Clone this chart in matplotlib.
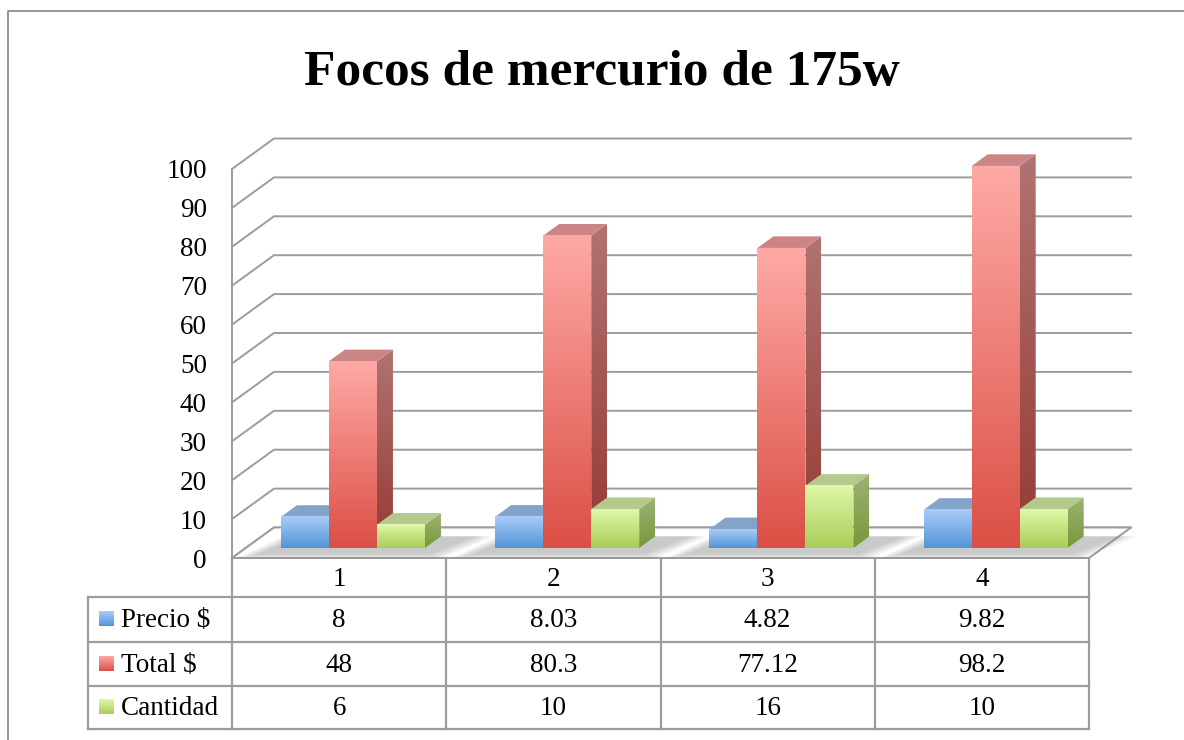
import numpy as np
import matplotlib
matplotlib.use("Agg")
import matplotlib.pyplot as plt
from matplotlib.patches import Polygon
from matplotlib.colors import to_rgb

# datos de la tabla
categorias = ["1", "2", "3", "4"]
series = ["Precio $", "Total $", "Cantidad"]
precio = [8, 8.03, 4.82, 9.82]
total = [48, 80.3, 77.12, 98.2]
cantidad = [6, 10, 16, 10]
valores = [precio, total, cantidad]
ticks = list(range(0, 101, 10))

# colores: frente (arriba, abajo), tapa, lado (arriba, abajo)
colores = [
    dict(front=("#a8cdf8", "#5394d6"), top="#84a3c9", side=("#7596c2", "#3f6ea8")),
    dict(front=("#fea9a5", "#db5045"), top="#cc8585", side=("#b07371", "#953a34")),
    dict(front=("#e0f8a8", "#a9cd58"), top="#b4c98c", side=("#9db276", "#76993a")),
]

plt.rcParams['font.family'] = ['Liberation Serif', 'DejaVu Serif']
FS = 19.5

W, H = 1184, 740
fig = plt.figure(figsize=(W / 100, H / 100), dpi=100)
ax = fig.add_axes([0, 0, 1, 1])
ax.axis('off')

# proyeccion falsa 3D en pixeles
X0, Y0 = 232, 558
CAT_W = 214.25
S = 3.89
DX, DY = 42, 30.5
GRID = "#9c9c9c"


def proj(xc, v, d):
    return X0 + xc * CAT_W + d * DX, Y0 - v * S - d * DY


def gradiente(x0, x1, ytop, ybot, c_top, c_bot, clip=None, z=3):
    a, b = np.array(to_rgb(c_top)), np.array(to_rgb(c_bot))
    t = np.linspace(0, 1, 64)[:, None]
    img = (a * (1 - t) + b * t)[:, None, :]
    im = ax.imshow(img, extent=(x0, x1, ybot, ytop), origin='upper',
                   aspect='auto', interpolation='bilinear', zorder=z)
    if clip is not None:
        im.set_clip_path(clip)
    return im


# marco exterior
ax.plot([8, 8, W], [H, 11, 11], color="#8c8c8c", lw=1.3, zorder=1)

# titulo
ax.text(602, 85, "Focos de mercurio de 175w", ha='center', va='baseline',
        fontsize=37, fontweight='bold', zorder=5)

# pared del fondo y pared izquierda
n = len(categorias)
for v in ticks:
    p0 = proj(0, v, 0)
    p1 = proj(0, v, 1)
    p2 = proj(n, v, 1)
    ax.plot([p0[0], p1[0], p2[0]], [p0[1], p1[1], p2[1]],
            color=GRID, lw=1.4, zorder=2, solid_joinstyle='miter')
    ax.text(207, p0[1] + 3, str(v), ha='right', va='center', fontsize=FS)
a, b = proj(0, 0, 0), proj(0, 100, 0)
ax.plot([a[0], b[0]], [a[1], b[1]], color=GRID, lw=1.4, zorder=2)

# piso
f = [proj(0, 0, 0), proj(n, 0, 0), proj(n, 0, 1), proj(0, 0, 1)]
ax.add_patch(Polygon(f, closed=True, facecolor="white", edgecolor=GRID,
                     lw=1.4, zorder=2))

BW = 0.224
G0 = 0.5 - 1.5 * BW
D0, D1 = 0.33, 0.71

# sombras suaves bajo cada grupo
for i in range(n):
    xl = i + G0
    xr = i + G0 + 3 * BW
    for k in range(8):
        e = 0.012 * k
        poly = [proj(xl - 0.06 - e, 0, D0 - 0.2 - e * 2),
                proj(xr + 0.06 + e, 0, D0 - 0.2 - e * 2),
                proj(xr + 0.16 + e, 0, D1),
                proj(xl + 0.02 - e, 0, D1)]
        ax.add_patch(Polygon(poly, closed=True, facecolor="#7a7a7a",
                             edgecolor='none', alpha=0.06, zorder=2.5))

# barras
for i in range(n):
    for j, serie in enumerate(valores):
        v = serie[i]
        c = colores[j]
        xl = i + G0 + j * BW
        xr = xl + BW
        z = 3 + i * 0.1 + j * 0.01
        # lado derecho
        side = [proj(xr, 0, D0), proj(xr, v, D0), proj(xr, v, D1), proj(xr, 0, D1)]
        sp = Polygon(side, closed=True, facecolor='none', edgecolor='none', zorder=z)
        ax.add_patch(sp)
        ys = [p[1] for p in side]
        xs = [p[0] for p in side]
        gradiente(min(xs), max(xs), min(ys), max(ys), c["side"][0], c["side"][1],
                  clip=sp, z=z)
        # tapa
        top = [proj(xl, v, D0), proj(xr, v, D0), proj(xr, v, D1), proj(xl, v, D1)]
        ax.add_patch(Polygon(top, closed=True, facecolor=c["top"],
                             edgecolor='none', zorder=z))
        # frente
        fl, fb = proj(xl, 0, D0)
        fr, ft = proj(xr, v, D0)
        gradiente(fl, fr, ft, fb, c["front"][0], c["front"][1], z=z + 0.001)

# tabla de datos
xs_tab = [proj(k, 0, 0)[0] for k in range(n + 1)]
y_rows = [558, 597, 642, 686, 729]
x_left = 88
for yy in y_rows[1:]:
    ax.plot([x_left, xs_tab[-1]], [yy, yy], color=GRID, lw=1.6, zorder=2)
ax.plot([x_left, x_left], [y_rows[1], y_rows[-1]], color=GRID, lw=1.6, zorder=2)
for xx in xs_tab:
    ax.plot([xx, xx], [y_rows[0], y_rows[-1]], color=GRID, lw=1.6, zorder=2)

for k, cat in enumerate(categorias):
    cx = (xs_tab[k] + xs_tab[k + 1]) / 2
    ax.text(cx, (y_rows[0] + y_rows[1]) / 2 + 2, cat, ha='center', va='center',
            fontsize=FS)
for j, (nombre, serie) in enumerate(zip(series, valores)):
    cy = (y_rows[j + 1] + y_rows[j + 2]) / 2
    gradiente(99, 114, cy - 8, cy + 7, colores[j]["front"][0],
              colores[j]["front"][1], z=4)
    ax.text(121, cy + 1, nombre, ha='left', va='center', fontsize=FS)
    for k, v in enumerate(serie):
        cx = (xs_tab[k] + xs_tab[k + 1]) / 2
        ax.text(cx, cy + 1, f"{v:g}", ha='center', va='center', fontsize=FS)

ax.set_xlim(0, W)
ax.set_ylim(H, 0)
fig.savefig("out.png", dpi=100)
